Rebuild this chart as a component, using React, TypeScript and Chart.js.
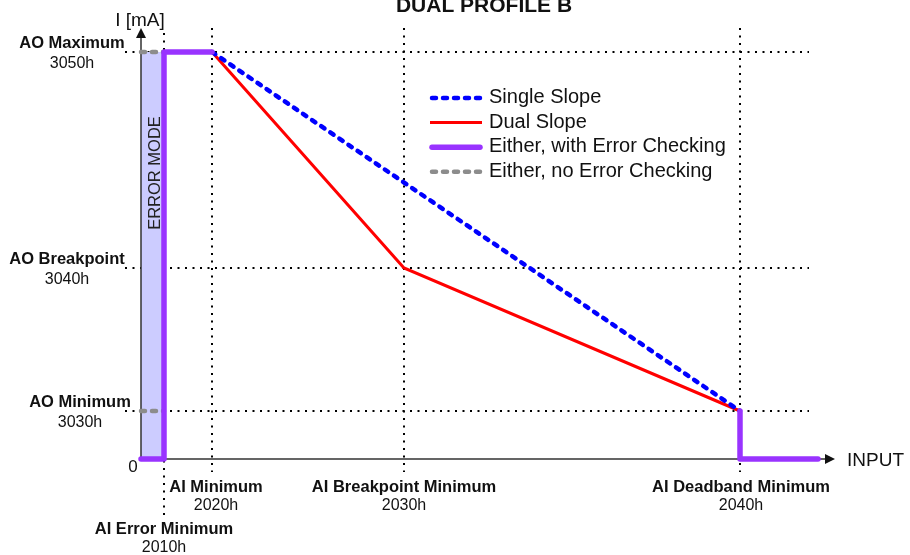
import React, { useEffect, useRef } from 'react';
import { Chart, registerables } from 'chart.js';

Chart.register(...registerables);

// ---- Data (schematic positions) ----
// Input axis marks (x), origin = 0
const inputMarks = [23, 71, 263, 599];
const inputNames = ['AI Error Minimum', 'AI Minimum', 'AI Breakpoint Minimum', 'AI Deadband Minimum'];
const inputCodes = ['2010h', '2020h', '2030h', '2040h'];
// Output axis marks (y), origin = 0
const outputMarks = [407, 191, 48];
const outputNames = ['AO Maximum', 'AO Breakpoint', 'AO Minimum'];
const outputCodes = ['3050h', '3040h', '3030h'];

// Series
const singleX = [71, 599];
const singleY = [407, 48];
const dualX = [71, 263, 599];
const dualY = [407, 191, 48];
const errSeg1X = [0, 23, 23, 71];
const errSeg1Y = [0, 0, 407, 407];
const errSeg2X = [599, 599, 677];
const errSeg2Y = [48, 0, 0];
const noErrSeg1X = [0, 23];
const noErrSeg1Y = [407, 407];
const noErrSeg2X = [0, 23];
const noErrSeg2Y = [48, 48];

const legendLabels = ['Single Slope', 'Dual Slope', 'Either, with Error Checking', 'Either, no Error Checking'];

const FONT = '"Liberation Sans", Arial, Helvetica, sans-serif';
const BLUE = '#0000ff';
const RED = '#ff0000';
const PURPLE = '#9933ff';
const GRAY = '#8c8c8c';

const pts = (xs: number[], ys: number[]) => xs.map((x, i) => ({ x, y: ys[i] }));

const styles: any = {
  single: { borderColor: BLUE, borderWidth: 4.5, borderDash: [4, 7], borderCapStyle: 'round' },
  dual: { borderColor: RED, borderWidth: 3, borderDash: [], borderCapStyle: 'butt' },
  err: { borderColor: PURPLE, borderWidth: 5.5, borderDash: [], borderCapStyle: 'round', borderJoinStyle: 'round' },
  noErr: { borderColor: GRAY, borderWidth: 4.5, borderDash: [4, 7], borderCapStyle: 'round' },
};

const mk = (data: any[], st: any) => ({
  data,
  showLine: true,
  pointRadius: 0,
  pointHoverRadius: 0,
  fill: false,
  tension: 0,
  ...st,
});

const diagramPlugin = {
  id: 'diagram',
  beforeDatasetsDraw(chart: any) {
    const ctx = chart.ctx;
    const xs = chart.scales.x;
    const ys = chart.scales.y;
    const px = (v: number) => xs.getPixelForValue(v);
    const py = (v: number) => ys.getPixelForValue(v);
    ctx.save();
    // dotted guides
    ctx.strokeStyle = '#000';
    ctx.lineWidth = 2;
    ctx.setLineDash([2, 5.5]);
    outputMarks.forEach((m) => {
      ctx.beginPath();
      ctx.moveTo(px(0) - 16, py(m));
      ctx.lineTo(px(inputMarks[3]) + 69, py(m));
      ctx.stroke();
    });
    inputMarks.forEach((m, i) => {
      ctx.beginPath();
      const top = i === 0 ? py(outputMarks[0]) - 19 : py(outputMarks[0]) - 24;
      const bot = i === 0 ? py(0) + 58 : py(0) + 13;
      ctx.moveTo(px(m), top);
      ctx.lineTo(px(m), bot);
      ctx.stroke();
    });
    ctx.setLineDash([]);
    // error mode band
    ctx.fillStyle = '#ccccff';
    ctx.fillRect(px(0), py(outputMarks[0]), px(inputMarks[0]) - px(0), py(0) - py(outputMarks[0]));
    ctx.save();
    ctx.translate(px(0) + 14, py(outputMarks[0]) + 121);
    ctx.rotate(-Math.PI / 2);
    ctx.fillStyle = '#222';
    ctx.font = `16.5px ${FONT}`;
    ctx.textAlign = 'center';
    ctx.textBaseline = 'middle';
    ctx.fillText('ERROR MODE', 0, 0);
    ctx.restore();
    // axes
    ctx.strokeStyle = '#333';
    ctx.fillStyle = '#111';
    ctx.lineWidth = 1.5;
    const ox = px(0);
    const oy = py(0);
    const xEnd = px(inputMarks[3]) + 95;
    const yEnd = py(outputMarks[0]) - 24;
    ctx.beginPath();
    ctx.moveTo(ox, oy);
    ctx.lineTo(xEnd - 8, oy);
    ctx.moveTo(ox, oy);
    ctx.lineTo(ox, yEnd + 8);
    ctx.stroke();
    ctx.beginPath();
    ctx.moveTo(xEnd, oy);
    ctx.lineTo(xEnd - 10, oy - 5);
    ctx.lineTo(xEnd - 10, oy + 5);
    ctx.closePath();
    ctx.fill();
    ctx.beginPath();
    ctx.moveTo(ox, yEnd);
    ctx.lineTo(ox - 5, yEnd + 10);
    ctx.lineTo(ox + 5, yEnd + 10);
    ctx.closePath();
    ctx.fill();
    ctx.restore();
  },
  afterDatasetsDraw(chart: any) {
    const ctx = chart.ctx;
    const xs = chart.scales.x;
    const ys = chart.scales.y;
    const px = (v: number) => xs.getPixelForValue(v);
    const py = (v: number) => ys.getPixelForValue(v);
    ctx.save();
    ctx.fillStyle = '#111';
    ctx.textBaseline = 'alphabetic';
    ctx.textAlign = 'center';
    // title
    ctx.font = `bold 21px ${FONT}`;
    ctx.fillText('DUAL PROFILE B', 484, 12);
    // axis titles
    ctx.font = `19px ${FONT}`;
    ctx.fillText('I [mA]', px(0) - 1, 25.5);
    ctx.textAlign = 'left';
    ctx.fillText('INPUT', px(inputMarks[3]) + 107, py(0) + 6.5);
    ctx.textAlign = 'center';
    ctx.font = `17px ${FONT}`;
    ctx.fillText('0', px(0) - 8, py(0) + 12.5);
    // output labels
    const outCx = [72, 67, 80];
    outputMarks.forEach((m, i) => {
      ctx.font = `bold 16.5px ${FONT}`;
      ctx.fillText(outputNames[i], outCx[i], py(m) - 4.5);
      ctx.font = `16px ${FONT}`;
      ctx.fillText(outputCodes[i], outCx[i], py(m) + 15.8);
    });
    // input labels
    const inOff = [0, 4, 0, 1];
    inputMarks.forEach((m, i) => {
      const base = i === 0 ? py(0) + 74.5 : py(0) + 32.5;
      ctx.font = `bold 16.5px ${FONT}`;
      ctx.fillText(inputNames[i], px(m) + inOff[i], base);
      ctx.font = `16px ${FONT}`;
      ctx.fillText(inputCodes[i], px(m) + inOff[i], base + 18.8);
    });
    // legend
    const order = [styles.single, styles.dual, styles.err, styles.noErr];
    order.forEach((st: any, i: number) => {
      const base = 103 + i * 24.6;
      const ly = base - 5;
      ctx.save();
      ctx.strokeStyle = st.borderColor;
      ctx.lineWidth = st.borderWidth;
      ctx.setLineDash(st.borderDash);
      ctx.lineCap = st.borderCapStyle;
      ctx.beginPath();
      const x0 = st.borderCapStyle === 'round' ? 432 : 430;
      const x1 = st.borderCapStyle === 'round' ? 480 : 482;
      ctx.moveTo(x0, ly);
      ctx.lineTo(x1, ly);
      ctx.stroke();
      ctx.restore();
      ctx.textAlign = 'left';
      ctx.font = `20px ${FONT}`;
      ctx.fillStyle = '#111';
      ctx.fillText(legendLabels[i], 489, base);
    });
    ctx.restore();
  },
};

export default function App() {
  const ref = useRef<HTMLCanvasElement>(null);
  useEffect(() => {
    const canvas = ref.current;
    if (!canvas) return;
    const chart = new Chart(canvas, {
      type: 'scatter',
      data: {
        datasets: [
          mk(pts(errSeg1X, errSeg1Y), styles.err),
          mk(pts(errSeg2X, errSeg2Y), styles.err),
          mk(pts(singleX, singleY), styles.single),
          mk(pts(dualX, dualY), styles.dual),
          mk(pts(noErrSeg1X, noErrSeg1Y), styles.noErr),
          mk(pts(noErrSeg2X, noErrSeg2Y), styles.noErr),
        ] as any,
      },
      options: {
        responsive: false,
        animation: false,
        devicePixelRatio: 1,
        layout: { padding: 0 },
        plugins: { legend: { display: false }, tooltip: { enabled: false }, title: { display: false } },
        events: [],
        scales: {
          x: { type: 'linear', min: -141, max: 769, display: false },
          y: { type: 'linear', min: -96, max: 459, display: false },
        },
      },
      plugins: [diagramPlugin],
    });
    return () => chart.destroy();
  }, []);
  return (
    <div style={{ position: 'fixed', left: 0, top: 0, width: 910, height: 555, background: '#fff' }}>
      <canvas ref={ref} width={910} height={555} style={{ display: 'block', width: 910, height: 555 }} />
    </div>
  );
}
